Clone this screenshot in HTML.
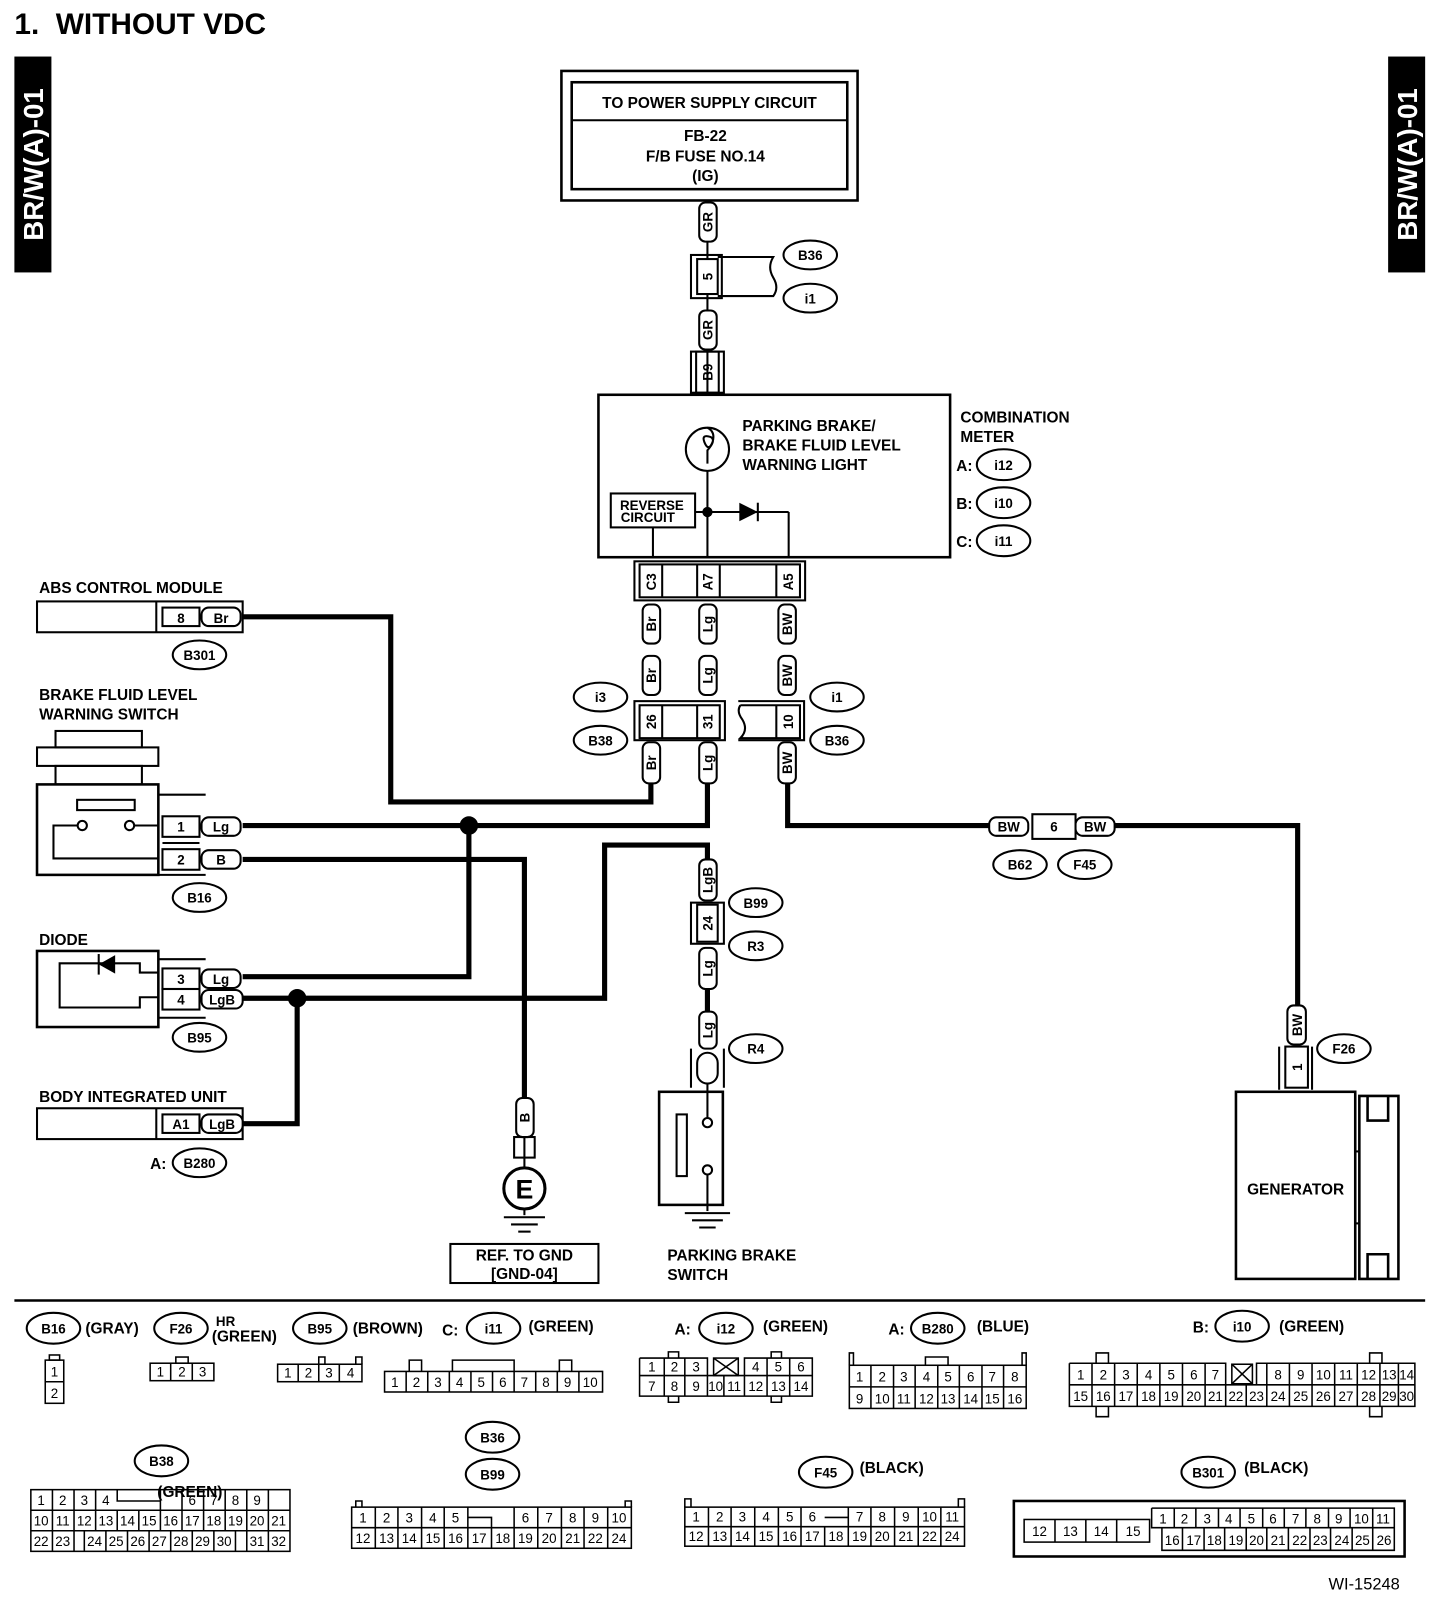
<!DOCTYPE html>
<html><head><meta charset="utf-8"><style>
html,body{margin:0;padding:0;background:#fff}
svg{display:block}
text{font-family:"Liberation Sans",sans-serif;fill:#000}
.b{font-weight:bold;font-size:15px}
.s{font-size:13px}
.w{font-weight:bold;font-size:13px}
</style></head><body>
<svg width="1456" height="1612" viewBox="0 0 1416 1568" preserveAspectRatio="none" xmlns="http://www.w3.org/2000/svg">
<text x="14" y="33" style="font-weight:bold;font-size:29px">1.&#160;&#160;WITHOUT VDC</text>
<rect x="14" y="55" width="36" height="210" fill="#000"/>
<text transform="translate(42,160) rotate(-90)" text-anchor="middle" style="font-size:27px;font-weight:bold;fill:#fff">BR/W(A)-01</text>
<rect x="1350" y="55" width="36" height="210" fill="#000"/>
<text transform="translate(1378,160) rotate(-90)" text-anchor="middle" style="font-size:27px;font-weight:bold;fill:#fff">BR/W(A)-01</text>

<g fill="none" stroke="#000" stroke-width="2">
<rect x="546" y="69" width="288" height="126" stroke-width="2.5"/>
<rect x="556" y="80" width="268" height="104" stroke-width="2.5"/>
<line x1="556" y1="117" x2="824" y2="117"/>
<line x1="688" y1="195" x2="688" y2="384"/>
<rect x="672" y="248" width="30" height="42"/>
<rect x="678" y="252" width="20" height="34" fill="#fff"/>
<path d="M698 250 H752 Q746 260 752 270 Q758 280 752 288 H698"/>
<rect x="672" y="342" width="32" height="40"/>
<rect x="677" y="342" width="22" height="40"/>
<rect x="582" y="384" width="342" height="158" stroke-width="2.5"/>
<circle cx="688" cy="437" r="21"/>
<path d="M688 416 q8 4 5 14 q-4 10 -8 0 q-3 -8 6 -5 q6 3 -3 13 v13"/>
<rect x="594" y="480" width="82" height="33"/>
<line x1="635" y1="513" x2="635" y2="542"/>
<line x1="688" y1="458" x2="688" y2="542"/>
<line x1="676" y1="498" x2="767" y2="498"/>
<line x1="767" y1="498" x2="767" y2="542"/>
<line x1="737" y1="489" x2="737" y2="507"/>
<rect x="617" y="546" width="166" height="38"/>
<rect x="622" y="549" width="156" height="32" fill="#fff"/>
<line x1="644" y1="549" x2="644" y2="581"/><line x1="678" y1="549" x2="678" y2="581"/><line x1="700" y1="549" x2="700" y2="581"/><line x1="755" y1="549" x2="755" y2="581"/>
<rect x="617" y="682" width="88" height="38"/>
<rect x="622" y="686" width="78" height="32" fill="#fff"/>
<line x1="644" y1="686" x2="644" y2="718"/><line x1="678" y1="686" x2="678" y2="718"/>
<path d="M718 682 H782 V720 H718"/>
<path d="M720 686 H778 V718 H720 Q728 710 722 700 Q716 692 720 686"/>
<line x1="755" y1="686" x2="755" y2="718"/>
<rect x="672" y="878" width="32" height="40"/>
<rect x="678" y="880" width="20" height="36" fill="#fff"/>
<path d="M672 1020 V1058 M704 1020 V1058"/>
<rect x="678" y="1024" width="20" height="30" rx="10"/>
<rect x="641" y="1062" width="62" height="110" stroke-width="2.5"/>
<rect x="658" y="1084" width="10" height="60"/>
<circle cx="688" cy="1092" r="4.5"/><circle cx="688" cy="1138" r="4.5"/>
<line x1="688" y1="1054" x2="688" y2="1087"/><line x1="688" y1="1143" x2="688" y2="1178"/>
<line x1="666" y1="1180" x2="710" y2="1180"/><line x1="673" y1="1187" x2="703" y2="1187"/><line x1="680" y1="1194" x2="696" y2="1194"/>
<line x1="510" y1="1106" x2="510" y2="1136"/>
<rect x="500" y="1106" width="20" height="20"/>
<circle cx="510" cy="1156" r="20" stroke-width="3"/>
<line x1="510" y1="1176" x2="510" y2="1182"/>
<line x1="490" y1="1184" x2="530" y2="1184"/><line x1="497" y1="1191" x2="523" y2="1191"/><line x1="504" y1="1198" x2="516" y2="1198"/>
<rect x="438" y="1210" width="144" height="38"/>
<path d="M1244 1060 V1018 M1276 1060 V1018"/>
<rect x="1250" y="1018" width="22" height="40"/>
<rect x="1202" y="1062" width="116" height="182" stroke-width="2.5"/>
<path d="M1322 1066 H1360 V1244 H1322 Z M1330 1066 V1090 H1350 V1066 M1330 1244 V1220 H1350 V1244" stroke-width="2.5"/>
<line x1="1318" y1="1120" x2="1322" y2="1120"/><line x1="1318" y1="1190" x2="1322" y2="1190"/>
<rect x="1004" y="792" width="42" height="24"/>
<rect x="36" y="585" width="200" height="30"/>
<line x1="152" y1="585" x2="152" y2="615"/>
<rect x="158" y="591" width="36" height="18"/>
<rect x="54" y="711" width="84" height="16"/>
<rect x="36" y="727" width="118" height="18"/>
<rect x="54" y="745" width="84" height="18"/>
<rect x="36" y="763" width="118" height="88" stroke-width="2.5"/>
<rect x="75" y="778" width="56" height="10"/>
<circle cx="80" cy="803" r="4.5"/><circle cx="126" cy="803" r="4.5"/>
<path d="M75 803 H52 V835 H154 M131 803 H154"/>
<path d="M154 773 H200 M154 851 H200"/>
<rect x="158" y="794" width="36" height="20"/><rect x="158" y="826" width="36" height="20"/>
<line x1="158" y1="820" x2="194" y2="820"/>
<rect x="36" y="925" width="118" height="74" stroke-width="2.5"/>
<path d="M154 946 H136 V937 H58 V980 H136 V970 H154"/>
<line x1="96" y1="928" x2="96" y2="948"/>
<path d="M154 933 H200 M154 990 H200"/>
<rect x="158" y="942" width="36" height="20"/><rect x="158" y="962" width="36" height="20"/>
<rect x="36" y="1078" width="200" height="30"/>
<line x1="152" y1="1078" x2="152" y2="1108"/>
<rect x="158" y="1084" width="36" height="18"/>
</g>
<path d="M112 929 L96 938 L112 947 Z" fill="#000"/>
<path d="M719 489 L719 507 L737 498 Z" fill="#000"/>
<circle cx="688" cy="498" r="5" fill="#000"/>

<g fill="none" stroke="#000" stroke-width="5">
<path d="M236 600 H380 V780 H633 V762"/>
<path d="M236 803 H688 V762"/>
<path d="M236 836 H510 V1068"/>
<path d="M456 803 V950 H236"/>
<path d="M236 971 H588 V822 H688 V838"/>
<path d="M289 971 V1093 H236"/>
<path d="M766 762 V803 H962 M1084 803 H1262 V980"/>
<path d="M688 962 V986"/>
</g>
<circle cx="456" cy="803" r="9" fill="#000"/>
<circle cx="289" cy="971" r="9" fill="#000"/>

<g fill="#fff" stroke="#000" stroke-width="2">
<rect x="680" y="197" width="17" height="38" rx="6"/>
<rect x="680" y="302" width="17" height="38" rx="6"/>
<rect x="625" y="588" width="17" height="38" rx="6"/>
<rect x="680" y="588" width="17" height="38" rx="6"/>
<rect x="757" y="588" width="17" height="38" rx="6"/>
<rect x="625" y="638" width="17" height="38" rx="6"/>
<rect x="680" y="638" width="17" height="38" rx="6"/>
<rect x="757" y="638" width="17" height="38" rx="6"/>
<rect x="625" y="722" width="17" height="40" rx="6"/>
<rect x="680" y="722" width="17" height="40" rx="6"/>
<rect x="757" y="722" width="17" height="40" rx="6"/>
<rect x="680" y="836" width="17" height="40" rx="6"/>
<rect x="680" y="922" width="17" height="40" rx="6"/>
<rect x="680" y="984" width="17" height="36" rx="6"/>
<rect x="502" y="1068" width="17" height="38" rx="6"/>
<rect x="1252" y="978" width="18" height="38" rx="6"/>
<rect x="196" y="591" width="38" height="18" rx="7"/>
<rect x="196" y="795" width="38" height="18" rx="7"/>
<rect x="196" y="827" width="38" height="18" rx="7"/>
<rect x="196" y="943" width="38" height="18" rx="7"/>
<rect x="196" y="963" width="40" height="18" rx="7"/>
<rect x="196" y="1084" width="40" height="18" rx="7"/>
<rect x="962" y="795" width="38" height="18" rx="7"/>
<rect x="1046" y="795" width="38" height="18" rx="7"/>
<ellipse cx="788" cy="248" rx="26" ry="14"/><ellipse cx="788" cy="290" rx="26" ry="14"/>
<ellipse cx="976" cy="452" rx="26" ry="15"/><ellipse cx="976" cy="489" rx="26" ry="15"/><ellipse cx="976" cy="526" rx="26" ry="15"/>
<ellipse cx="194" cy="637" rx="26" ry="14"/>
<ellipse cx="584" cy="678" rx="26" ry="14"/><ellipse cx="584" cy="720" rx="26" ry="14"/>
<ellipse cx="814" cy="678" rx="26" ry="14"/><ellipse cx="814" cy="720" rx="26" ry="14"/>
<ellipse cx="194" cy="873" rx="26" ry="14"/>
<ellipse cx="735" cy="878" rx="26" ry="14"/><ellipse cx="735" cy="920" rx="26" ry="14"/>
<ellipse cx="992" cy="841" rx="26" ry="14"/><ellipse cx="1055" cy="841" rx="26" ry="14"/>
<ellipse cx="194" cy="1009" rx="26" ry="14"/>
<ellipse cx="735" cy="1020" rx="26" ry="14"/>
<ellipse cx="1307" cy="1020" rx="26" ry="14"/>
<ellipse cx="194" cy="1131" rx="26" ry="14"/>
<ellipse cx="52" cy="1292" rx="26" ry="15"/><ellipse cx="176" cy="1292" rx="26" ry="15"/>
<ellipse cx="311" cy="1292" rx="26" ry="15"/><ellipse cx="480" cy="1292" rx="26" ry="15"/>
<ellipse cx="706" cy="1292" rx="26" ry="15"/><ellipse cx="912" cy="1292" rx="26" ry="15"/>
<ellipse cx="1208" cy="1290" rx="26" ry="15"/>
<ellipse cx="157" cy="1421" rx="26" ry="15"/>
<ellipse cx="479" cy="1398" rx="26" ry="15"/><ellipse cx="479" cy="1434" rx="26" ry="15"/>
<ellipse cx="803" cy="1432" rx="26" ry="15"/><ellipse cx="1175" cy="1432" rx="26" ry="15"/>
</g>

<g class="b">
<text x="690" y="105" text-anchor="middle">TO POWER SUPPLY CIRCUIT</text>
<text x="686" y="137" text-anchor="middle">FB-22</text>
<text x="686" y="157" text-anchor="middle">F/B FUSE NO.14</text>
<text x="686" y="176" text-anchor="middle">(IG)</text>
<text x="722" y="419">PARKING BRAKE/</text>
<text x="722" y="438">BRAKE FLUID LEVEL</text>
<text x="722" y="457">WARNING LIGHT</text>
<text x="934" y="411">COMBINATION</text>
<text x="934" y="430">METER</text>
<text x="930" y="458">A:</text><text x="930" y="495">B:</text><text x="930" y="532">C:</text>
<text x="38" y="577">ABS CONTROL MODULE</text>
<text x="38" y="681">BRAKE FLUID LEVEL</text>
<text x="38" y="700">WARNING SWITCH</text>
<text x="38" y="919">DIODE</text>
<text x="38" y="1072">BODY INTEGRATED UNIT</text>
<text x="146" y="1137">A:</text>
<text x="510" y="1226" text-anchor="middle">REF. TO GND</text>
<text x="510" y="1244" text-anchor="middle">[GND-04]</text>
<text x="649" y="1226">PARKING BRAKE</text>
<text x="649" y="1245">SWITCH</text>
<text x="1260" y="1162" text-anchor="middle">GENERATOR</text>
<text x="83" y="1297">(GRAY)</text>
<text x="210" y="1290" style="font-size:13px">HR</text>
<text x="206" y="1305">(GREEN)</text>
<text x="343" y="1297">(BROWN)</text>
<text x="430" y="1299">C:</text>
<text x="514" y="1295">(GREEN)</text>
<text x="656" y="1298">A:</text><text x="742" y="1295">(GREEN)</text>
<text x="864" y="1298">A:</text><text x="950" y="1295">(BLUE)</text>
<text x="1160" y="1296">B:</text><text x="1244" y="1295">(GREEN)</text>
<text x="836" y="1433">(BLACK)</text>
<text x="1210" y="1433">(BLACK)</text>
<text x="153" y="1456">(GREEN)</text>
<text x="1292" y="1546" style="font-weight:normal;font-size:16px">WI-15248</text>
</g>
<g class="w" text-anchor="middle">
<text x="634" y="496">REVERSE</text><text x="630" y="508">CIRCUIT</text>
<text x="788" y="253">B36</text><text x="788" y="295">i1</text>
<text x="976" y="457">i12</text><text x="976" y="494">i10</text><text x="976" y="531">i11</text>
<text x="194" y="642">B301</text>
<text x="584" y="683">i3</text><text x="584" y="725">B38</text>
<text x="814" y="683">i1</text><text x="814" y="725">B36</text>
<text x="194" y="878">B16</text>
<text x="735" y="883">B99</text><text x="735" y="925">R3</text>
<text x="992" y="846">B62</text><text x="1055" y="846">F45</text>
<text x="194" y="1014">B95</text>
<text x="735" y="1025">R4</text>
<text x="1307" y="1025">F26</text>
<text x="194" y="1136">B280</text>
<text x="52" y="1297">B16</text><text x="176" y="1297">F26</text><text x="311" y="1297">B95</text>
<text x="480" y="1297">i11</text><text x="706" y="1297">i12</text><text x="912" y="1297">B280</text>
<text x="1208" y="1295">i10</text><text x="157" y="1426">B38</text>
<text x="479" y="1403">B36</text><text x="479" y="1439">B99</text>
<text x="803" y="1437">F45</text><text x="1175" y="1437">B301</text>
<text x="176" y="606">8</text><text x="215" y="606">Br</text>
<text x="176" y="809">1</text><text x="215" y="809">Lg</text>
<text x="176" y="841">2</text><text x="215" y="841">B</text>
<text x="176" y="957">3</text><text x="215" y="957">Lg</text>
<text x="176" y="977">4</text><text x="216" y="977">LgB</text>
<text x="176" y="1098">A1</text><text x="216" y="1098">LgB</text>
<text x="981" y="809">BW</text><text x="1025" y="809">6</text><text x="1065" y="809">BW</text>
<text x="510" y="1166" style="font-size:26px">E</text>
</g>
<g class="w" text-anchor="middle">
<text transform="translate(693,216) rotate(-90)">GR</text>
<text transform="translate(693,269) rotate(-90)">5</text>
<text transform="translate(693,321) rotate(-90)">GR</text>
<text transform="translate(693,362) rotate(-90)">B9</text>
<text transform="translate(638,566) rotate(-90)">C3</text>
<text transform="translate(693,566) rotate(-90)">A7</text>
<text transform="translate(771,566) rotate(-90)">A5</text>
<text transform="translate(638,607) rotate(-90)">Br</text>
<text transform="translate(693,607) rotate(-90)">Lg</text>
<text transform="translate(770,607) rotate(-90)">BW</text>
<text transform="translate(638,657) rotate(-90)">Br</text>
<text transform="translate(693,657) rotate(-90)">Lg</text>
<text transform="translate(770,657) rotate(-90)">BW</text>
<text transform="translate(638,702) rotate(-90)">26</text>
<text transform="translate(693,702) rotate(-90)">31</text>
<text transform="translate(771,702) rotate(-90)">10</text>
<text transform="translate(638,742) rotate(-90)">Br</text>
<text transform="translate(693,742) rotate(-90)">Lg</text>
<text transform="translate(770,742) rotate(-90)">BW</text>
<text transform="translate(693,856) rotate(-90)">LgB</text>
<text transform="translate(693,898) rotate(-90)">24</text>
<text transform="translate(693,942) rotate(-90)">Lg</text>
<text transform="translate(693,1002) rotate(-90)">Lg</text>
<text transform="translate(515,1087) rotate(-90)">B</text>
<text transform="translate(1266,997) rotate(-90)">BW</text>
<text transform="translate(1266,1038) rotate(-90)">1</text>
</g>

<line x1="14" y1="1265" x2="1386" y2="1265" stroke="#000" stroke-width="2.5"/>

<g fill="none" stroke="#000" stroke-width="1.5">
<rect x="44" y="1323" width="18" height="42"/><line x1="44" y1="1344" x2="62" y2="1344"/><rect x="48" y="1318" width="10" height="5"/>
<rect x="146" y="1326" width="62" height="17"/><line x1="166" y1="1326" x2="166" y2="1343"/><line x1="187" y1="1326" x2="187" y2="1343"/><rect x="171" y="1320" width="12" height="6"/>
<rect x="270" y="1327" width="82" height="17"/><path d="M290 1327V1344M310 1327V1344M330 1327V1344M310 1327V1320H316V1327M346 1327V1320H352V1327"/>
<rect x="374" y="1334" width="212" height="20"/><path d="M395 1334V1354M416 1334V1354M437 1334V1354M458 1334V1354M479 1334V1354M500 1334V1354M521 1334V1354M542 1334V1354M563 1334V1354"/><path d="M398 1334V1323H410V1334M440 1334V1323H500V1334M544 1334V1323H556V1334"/>
<path d="M622 1321H688V1338M622 1321V1358H790V1321H724V1338M622 1338H790"/>
<path d="M646 1321V1358M666 1321V1358M688 1338V1358M704 1338V1358M724 1338V1358M746 1321V1358M768 1321V1358"/>
<rect x="694" y="1321" width="24" height="17"/><path d="M694 1321L718 1338M718 1321L694 1338"/>
<path d="M650 1321V1315H660V1321M650 1358V1364H660V1358M750 1321V1315H760V1321M750 1358V1364H760V1358"/>
<rect x="826" y="1328" width="172" height="42"/><path d="M826 1349H998M847 1328V1370M869 1328V1370M890 1328V1370M912 1328V1370M933 1328V1370M955 1328V1370M976 1328V1370M826 1328V1316H830V1328M994 1328V1316H998V1328M900 1328V1320H922V1328"/>
<path d="M1040 1326H1192V1347M1040 1326V1368H1376V1326H1222V1347M1040 1347H1376"/>
<path d="M1062 1326V1368M1084 1326V1368M1106 1326V1368M1128 1326V1368M1150 1326V1368M1172 1326V1368M1192 1347V1368M1212 1347V1368M1232 1326V1368M1254 1326V1368M1276 1326V1368M1298 1326V1368M1320 1326V1368M1342 1326V1368M1360 1326V1368"/>
<rect x="1198" y="1327" width="20" height="19"/><path d="M1198 1327L1218 1346M1218 1327L1198 1346"/>
<path d="M1066 1326V1316H1078V1326M1066 1368V1378H1078V1368M1332 1326V1316H1344V1326M1332 1368V1378H1344V1368"/>
<!-- B38 -->
<rect x="30" y="1449" width="252" height="60"/><path d="M30 1469H282M30 1489H282"/>
<path d="M51 1449V1489M72 1449V1489M93 1449V1489M114 1469V1489M135 1469V1489M156 1449V1489M177 1449V1489M198 1449V1489M219 1449V1489M240 1449V1489M261 1449V1489M114 1449V1460H156"/>
<path d="M51 1489V1509M72 1489V1509M82 1489V1509M103 1489V1509M124 1489V1509M145 1489V1509M166 1489V1509M187 1489V1509M208 1489V1509M229 1489V1509M240 1489V1509M261 1489V1509"/>
<rect x="342" y="1466" width="272" height="40"/><path d="M342 1486H614M365 1466V1506M387 1466V1506M410 1466V1506M432 1466V1506M455 1466V1506M478 1486V1506M500 1466V1506M523 1466V1506M546 1466V1506M568 1466V1506M591 1466V1506M455 1476H478V1486"/>
<path d="M346 1466V1460H352V1466M608 1466V1460H614V1466"/>
<rect x="666" y="1466" width="272" height="38"/><path d="M666 1485H938M689 1466V1504M711 1466V1504M734 1466V1504M757 1466V1504M779 1466V1504M802 1485V1504M825 1466V1504M847 1466V1504M870 1466V1504M893 1466V1504M915 1466V1504M802 1476H825V1485"/>
<path d="M666 1466V1458H672V1466M932 1466V1458H938V1466"/>
<rect x="986" y="1460" width="380" height="54" stroke-width="2.5"/>
<rect x="996" y="1478" width="122" height="22"/><path d="M1026 1478V1500M1056 1478V1500M1086 1478V1500"/>
<path d="M1120 1467H1356V1486M1120 1467V1486H1130V1508H1356V1486H1130"/>
<path d="M1142 1467V1486M1163 1467V1486M1185 1467V1486M1206 1467V1486M1228 1467V1486M1249 1467V1486M1270 1467V1486M1292 1467V1486M1313 1467V1486M1335 1467V1486"/>
<path d="M1150 1486V1508M1171 1486V1508M1191 1486V1508M1212 1486V1508M1232 1486V1508M1253 1486V1508M1274 1486V1508M1294 1486V1508M1315 1486V1508M1335 1486V1508"/>
</g>
<g class="s" text-anchor="middle">
<text x="53" y="1339">1</text><text x="53" y="1360">2</text>
<text x="156" y="1339">1</text><text x="177" y="1339">2</text><text x="197" y="1339">3</text>
<text x="280" y="1340">1</text><text x="300" y="1340">2</text><text x="320" y="1340">3</text><text x="341" y="1340">4</text>
<text x="384" y="1349">1</text><text x="405" y="1349">2</text><text x="426" y="1349">3</text><text x="447" y="1349">4</text><text x="468" y="1349">5</text><text x="489" y="1349">6</text><text x="510" y="1349">7</text><text x="531" y="1349">8</text><text x="552" y="1349">9</text><text x="574" y="1349">10</text>
<text x="634" y="1334">1</text><text x="656" y="1334">2</text><text x="677" y="1334">3</text><text x="735" y="1334">4</text><text x="757" y="1334">5</text><text x="779" y="1334">6</text>
<text x="634" y="1353">7</text><text x="656" y="1353">8</text><text x="677" y="1353">9</text><text x="696" y="1353">10</text><text x="714" y="1353">11</text><text x="735" y="1353">12</text><text x="757" y="1353">13</text><text x="779" y="1353">14</text>
<text x="836" y="1344">1</text><text x="858" y="1344">2</text><text x="879" y="1344">3</text><text x="901" y="1344">4</text><text x="922" y="1344">5</text><text x="944" y="1344">6</text><text x="965" y="1344">7</text><text x="987" y="1344">8</text>
<text x="836" y="1365">9</text><text x="858" y="1365">10</text><text x="879" y="1365">11</text><text x="901" y="1365">12</text><text x="922" y="1365">13</text><text x="944" y="1365">14</text><text x="965" y="1365">15</text><text x="987" y="1365">16</text>
<text x="1051" y="1342">1</text><text x="1073" y="1342">2</text><text x="1095" y="1342">3</text><text x="1117" y="1342">4</text><text x="1139" y="1342">5</text><text x="1161" y="1342">6</text><text x="1182" y="1342">7</text><text x="1243" y="1342">8</text><text x="1265" y="1342">9</text><text x="1287" y="1342">10</text><text x="1309" y="1342">11</text><text x="1331" y="1342">12</text><text x="1351" y="1342">13</text><text x="1368" y="1342">14</text>
<text x="1051" y="1363">15</text><text x="1073" y="1363">16</text><text x="1095" y="1363">17</text><text x="1117" y="1363">18</text><text x="1139" y="1363">19</text><text x="1161" y="1363">20</text><text x="1182" y="1363">21</text><text x="1202" y="1363">22</text><text x="1222" y="1363">23</text><text x="1243" y="1363">24</text><text x="1265" y="1363">25</text><text x="1287" y="1363">26</text><text x="1309" y="1363">27</text><text x="1331" y="1363">28</text><text x="1351" y="1363">29</text><text x="1368" y="1363">30</text>
<text x="40" y="1464">1</text><text x="61" y="1464">2</text><text x="82" y="1464">3</text><text x="103" y="1464">4</text><text x="187" y="1464">6</text><text x="208" y="1464">7</text><text x="229" y="1464">8</text><text x="250" y="1464">9</text>
<text x="40" y="1484">10</text><text x="61" y="1484">11</text><text x="82" y="1484">12</text><text x="103" y="1484">13</text><text x="124" y="1484">14</text><text x="145" y="1484">15</text><text x="166" y="1484">16</text><text x="187" y="1484">17</text><text x="208" y="1484">18</text><text x="229" y="1484">19</text><text x="250" y="1484">20</text><text x="271" y="1484">21</text>
<text x="40" y="1504">22</text><text x="61" y="1504">23</text><text x="92" y="1504">24</text><text x="113" y="1504">25</text><text x="134" y="1504">26</text><text x="155" y="1504">27</text><text x="176" y="1504">28</text><text x="197" y="1504">29</text><text x="218" y="1504">30</text><text x="250" y="1504">31</text><text x="271" y="1504">32</text>
<text x="353" y="1481">1</text><text x="376" y="1481">2</text><text x="398" y="1481">3</text><text x="421" y="1481">4</text><text x="443" y="1481">5</text><text x="511" y="1481">6</text><text x="534" y="1481">7</text><text x="557" y="1481">8</text><text x="579" y="1481">9</text><text x="602" y="1481">10</text>
<text x="353" y="1501">12</text><text x="376" y="1501">13</text><text x="398" y="1501">14</text><text x="421" y="1501">15</text><text x="443" y="1501">16</text><text x="466" y="1501">17</text><text x="489" y="1501">18</text><text x="511" y="1501">19</text><text x="534" y="1501">20</text><text x="557" y="1501">21</text><text x="579" y="1501">22</text><text x="602" y="1501">24</text>
<text x="677" y="1480">1</text><text x="700" y="1480">2</text><text x="722" y="1480">3</text><text x="745" y="1480">4</text><text x="768" y="1480">5</text><text x="790" y="1480">6</text><text x="836" y="1480">7</text><text x="858" y="1480">8</text><text x="881" y="1480">9</text><text x="904" y="1480">10</text><text x="926" y="1480">11</text>
<text x="677" y="1499">12</text><text x="700" y="1499">13</text><text x="722" y="1499">14</text><text x="745" y="1499">15</text><text x="768" y="1499">16</text><text x="790" y="1499">17</text><text x="813" y="1499">18</text><text x="836" y="1499">19</text><text x="858" y="1499">20</text><text x="881" y="1499">21</text><text x="904" y="1499">22</text><text x="926" y="1499">24</text>
<text x="1011" y="1494">12</text><text x="1041" y="1494">13</text><text x="1071" y="1494">14</text><text x="1102" y="1494">15</text>
<text x="1131" y="1482">1</text><text x="1152" y="1482">2</text><text x="1174" y="1482">3</text><text x="1195" y="1482">4</text><text x="1217" y="1482">5</text><text x="1238" y="1482">6</text><text x="1260" y="1482">7</text><text x="1281" y="1482">8</text><text x="1302" y="1482">9</text><text x="1324" y="1482">10</text><text x="1345" y="1482">11</text>
<text x="1140" y="1503">16</text><text x="1161" y="1503">17</text><text x="1181" y="1503">18</text><text x="1202" y="1503">19</text><text x="1222" y="1503">20</text><text x="1243" y="1503">21</text><text x="1264" y="1503">22</text><text x="1284" y="1503">23</text><text x="1305" y="1503">24</text><text x="1325" y="1503">25</text><text x="1346" y="1503">26</text>
</g>
</svg>
</body></html>
